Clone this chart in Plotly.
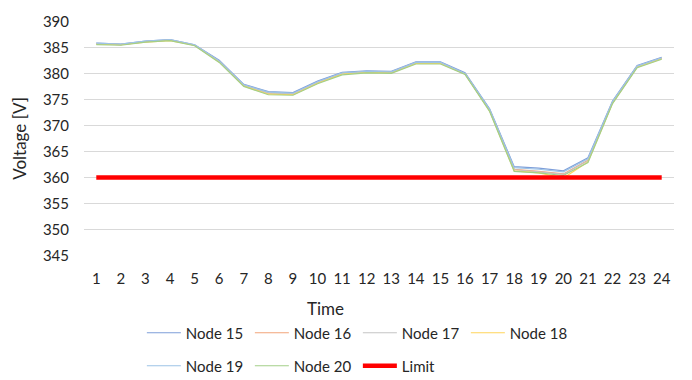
import plotly.graph_objects as go

hours = list(range(1, 25))

node15 = [385.8, 385.6, 386.2, 386.5, 385.5, 382.5, 377.9, 376.5, 376.3, 378.5, 380.2, 380.5,
          380.4, 382.2, 382.2, 380.1, 373.2, 362.1, 361.8, 361.3, 363.8, 374.7, 381.5, 383.1]
node16 = [385.7, 385.5, 386.1, 386.4, 385.4, 382.3, 377.7, 376.2, 376.0, 378.2, 380.0, 380.3,
          380.2, 382.0, 382.0, 379.9, 372.9, 361.6, 361.2, 360.7, 363.3, 374.4, 381.3, 382.9]
node17 = [385.7, 385.5, 386.1, 386.4, 385.4, 382.3, 377.7, 376.2, 376.0, 378.2, 380.0, 380.3,
          380.2, 382.0, 382.0, 379.9, 372.9, 361.5, 361.1, 360.6, 363.2, 374.4, 381.3, 382.9]
node18 = [385.6, 385.5, 386.0, 386.3, 385.4, 382.2, 377.6, 376.0, 375.9, 378.1, 379.9, 380.2,
          380.1, 381.9, 381.9, 379.9, 372.8, 361.3, 360.9, 359.9, 363.0, 374.3, 381.2, 382.8]
node19 = [385.8, 385.6, 386.2, 386.5, 385.5, 382.4, 377.8, 376.4, 376.2, 378.4, 380.1, 380.4,
          380.3, 382.1, 382.1, 380.0, 373.1, 361.9, 361.6, 361.1, 363.6, 374.6, 381.4, 383.0]
node20 = [385.5, 385.4, 386.0, 386.3, 385.3, 382.1, 377.5, 375.9, 375.8, 378.0, 379.7, 380.1,
          380.0, 381.8, 381.8, 379.8, 372.7, 361.2, 360.9, 360.4, 362.9, 374.2, 381.1, 382.7]
limit = [360] * 24

y_ticks = [345, 350, 355, 360, 365, 370, 375, 380, 385, 390]

FONT = "Lato"
TXT = "#262626"

series = [
    ("Node 15", node15, "#7E9ED9", "legend"),
    ("Node 16", node16, "#F2A57A", "legend"),
    ("Node 17", node17, "#C4C4C4", "legend"),
    ("Node 18", node18, "#FFD45A", "legend"),
    ("Node 19", node19, "#9DC3E6", "legend2"),
    ("Node 20", node20, "#A3CF88", "legend2"),
]

fig = go.Figure()
for name, vals, color, lg in series:
    fig.add_trace(go.Scatter(x=hours, y=vals, mode="lines", name=name,
                             line=dict(color=color, width=1.2), legend=lg))
fig.add_trace(go.Scatter(x=hours, y=limit, mode="lines", name="Limit",
                         line=dict(color="#FF0000", width=4.5), legend="legend2"))

legend_common = dict(orientation="h", xref="container", yref="container",
                     xanchor="left", yanchor="middle", entrywidth=59,
                     entrywidthmode="pixels", font=dict(family=FONT, size=15, color=TXT),
                     bgcolor="rgba(0,0,0,0)", traceorder="normal", itemwidth=34)

fig.update_layout(
    width=692, height=380,
    margin=dict(l=84, r=18, t=14, b=124),
    paper_bgcolor="white", plot_bgcolor="white",
    font=dict(family=FONT, size=15, color=TXT),
    showlegend=True,
    legend=dict(x=0.205, y=1 - 333 / 380, **legend_common),
    legend2=dict(x=0.205, y=1 - 366 / 380, **legend_common),
    xaxis=dict(range=[0.5, 24.5], tickmode="array", tickvals=hours,
               ticktext=[str(h) for h in hours], showgrid=False, zeroline=False,
               showline=False, ticks="", ticklabelstandoff=12,
               tickfont=dict(family=FONT, size=15, color=TXT)),
    yaxis=dict(range=[344.95, 390.05], tickmode="array", tickvals=y_ticks,
               showgrid=True, gridcolor="#D9D9D9", gridwidth=1, zeroline=False,
               showline=False, ticks="", ticklabelstandoff=14,
               tickfont=dict(family=FONT, size=15, color=TXT),
               title=dict(text="Voltage [V]", font=dict(family=FONT, size=17, color=TXT),
                          standoff=11)),
    annotations=[dict(text="Time", xref="paper", yref="paper",
                      x=(325 - 84) / 590, y=(256 - 310) / 242,
                      xanchor="center", yanchor="middle", showarrow=False,
                      font=dict(family=FONT, size=17, color=TXT))],
)

fig.write_html("out.html")
